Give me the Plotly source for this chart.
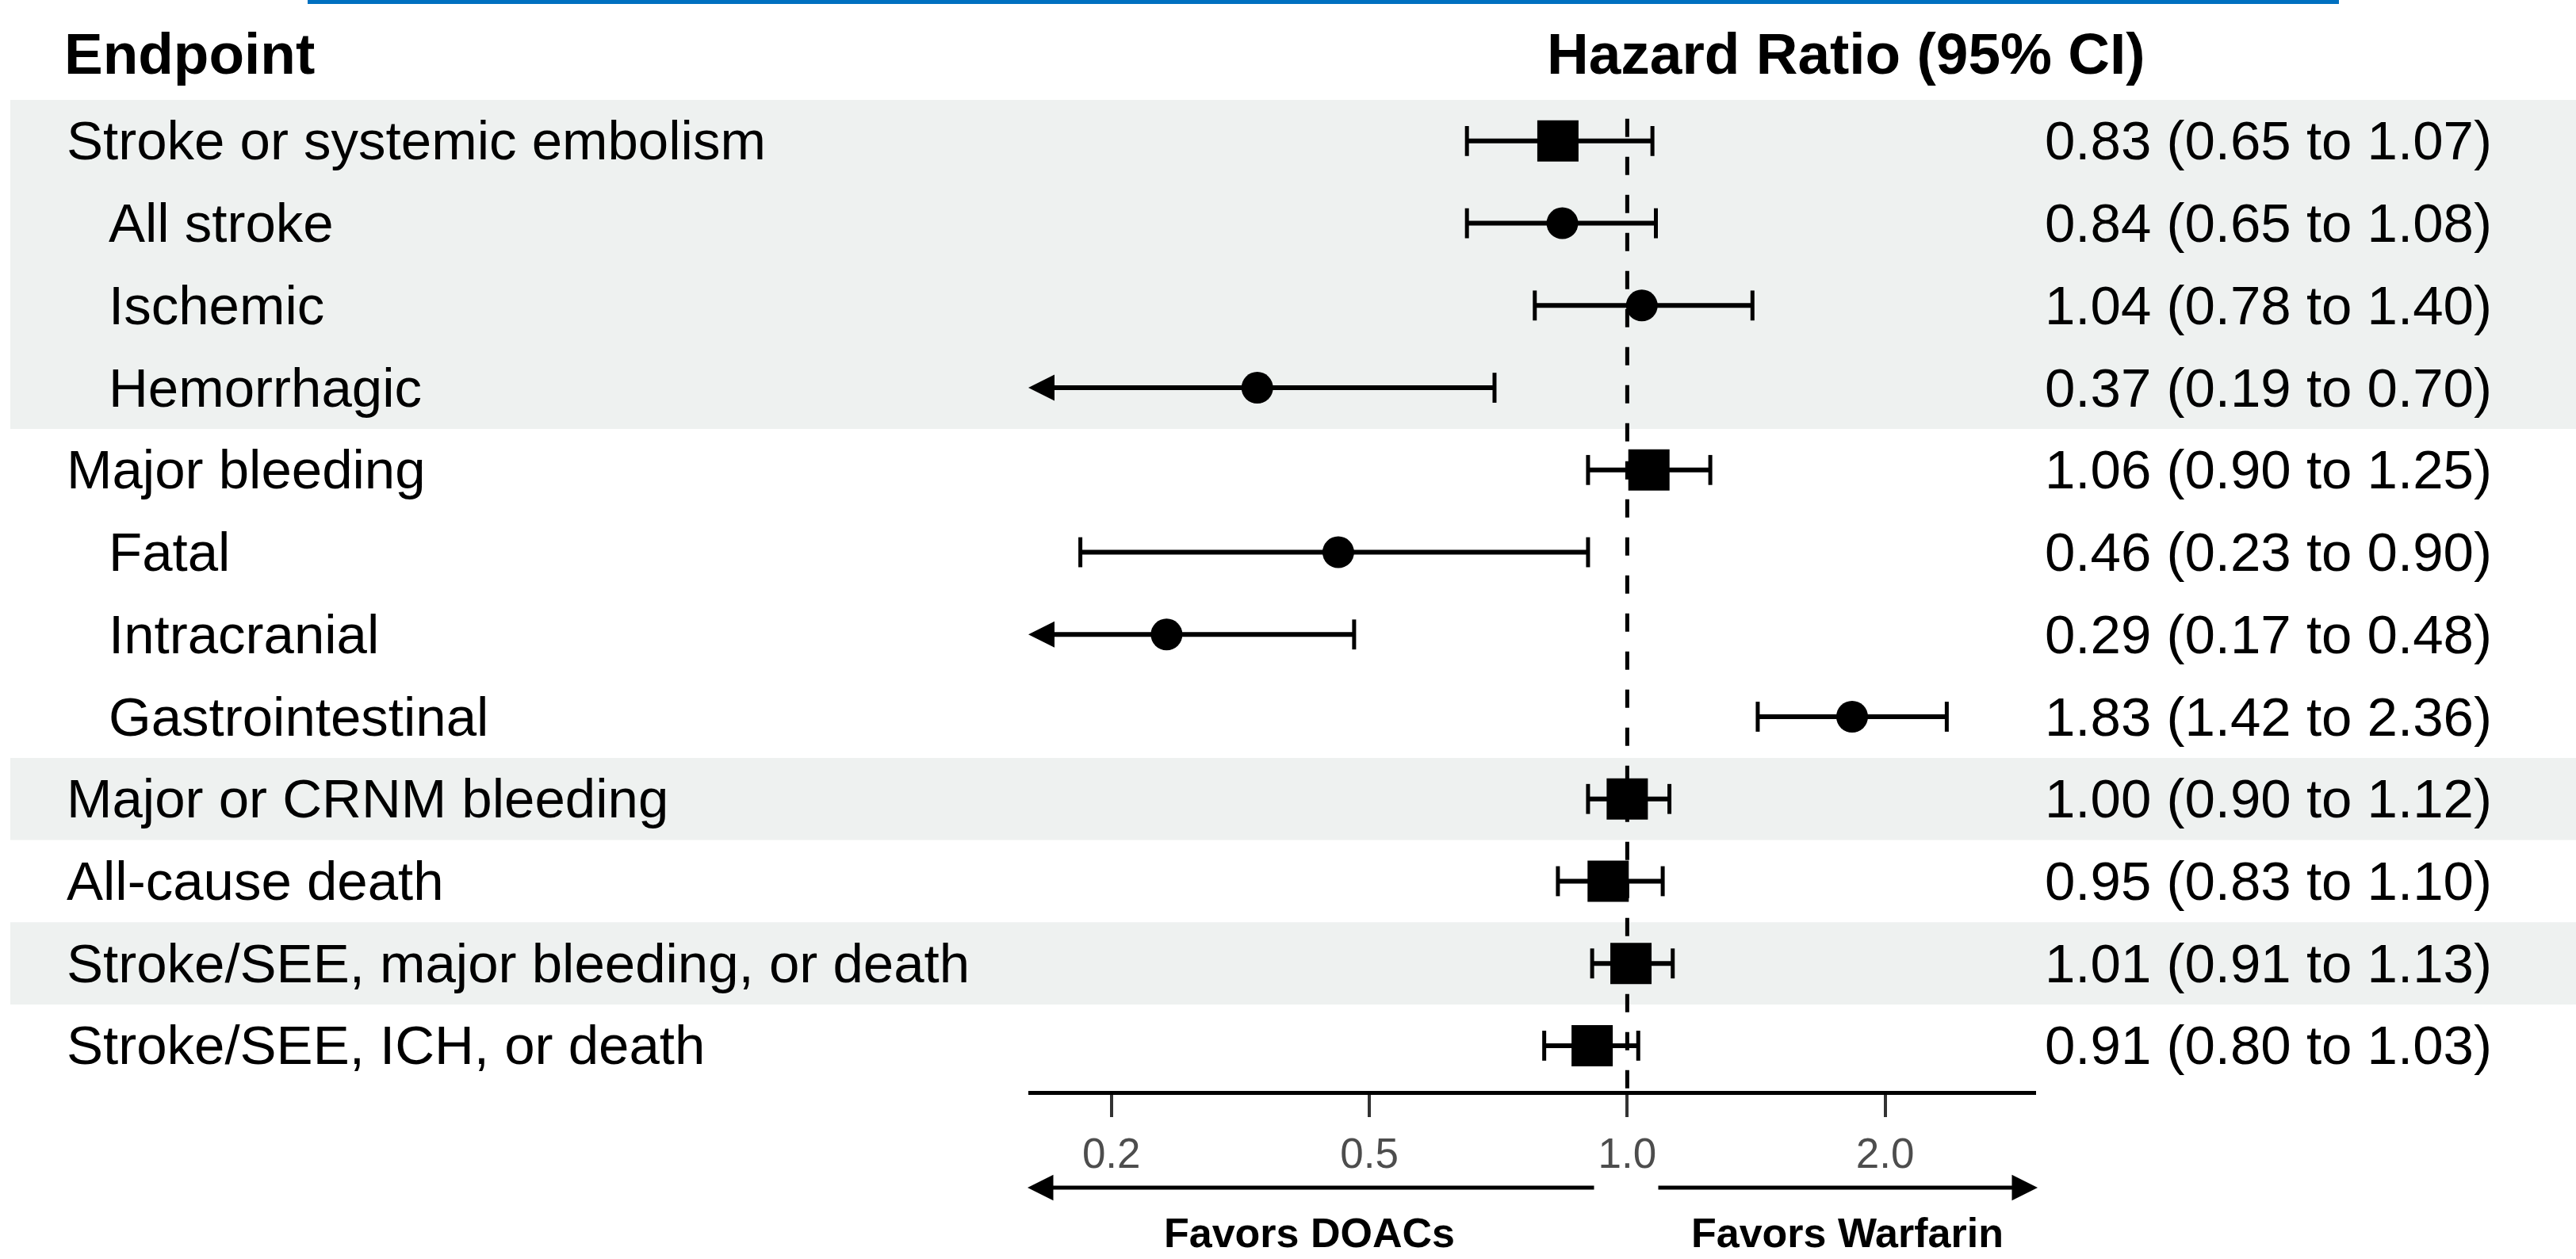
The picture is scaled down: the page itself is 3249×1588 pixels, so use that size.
import math
import plotly.graph_objects as go

# ---------------- data ----------------
endpoints = ["Stroke or systemic embolism", "All stroke", "Ischemic", "Hemorrhagic",
             "Major bleeding", "Fatal", "Intracranial", "Gastrointestinal",
             "Major or CRNM bleeding", "All-cause death",
             "Stroke/SEE, major bleeding, or death", "Stroke/SEE, ICH, or death"]
indent_level = [0, 1, 1, 1, 0, 1, 1, 1, 0, 0, 0, 0]
hazard_ratio = [0.83, 0.84, 1.04, 0.37, 1.06, 0.46, 0.29, 1.83, 1.00, 0.95, 1.01, 0.91]
ci_lower = [0.65, 0.65, 0.78, 0.19, 0.90, 0.23, 0.17, 1.42, 0.90, 0.83, 0.91, 0.80]
ci_upper = [1.07, 1.08, 1.40, 0.70, 1.25, 0.90, 0.48, 2.36, 1.12, 1.10, 1.13, 1.03]
shaded_groups = [(0, 3), (8, 8), (10, 10)]
tick_values = [0.25, 0.5, 1.0, 2.0]
tick_labels = ["0.2", "0.5", "1.0", "2.0"]
x_min, x_max = 0.2, 3.0

# ---------------- layout helpers ----------------
W, H = 3249, 1588
FONT = "Liberation Sans, Arial, Helvetica, sans-serif"


def px(x):
    return x / W


def py(y):
    return 1 - y / H


rows = list(range(len(endpoints)))
fig = go.Figure()
annotations = []

# reference line at HR = 1
fig.add_trace(go.Scatter(x=[1, 1], y=[-0.27, 11.55], mode="lines",
                         line=dict(color="black", width=5, dash="23px,25px"),
                         hoverinfo="skip", showlegend=False))

cap_x, cap_y = [], []
for i in rows:
    lo, hi = ci_lower[i], ci_upper[i]
    if lo < x_min:
        # truncated interval: arrow drawn along the log axis toward the axis minimum
        annotations.append(dict(xref="x", yref="y", axref="x", ayref="y",
                                x=math.log10(x_min), y=i, ax=math.log10(hi), ay=i,
                                text="", showarrow=True, arrowhead=2, arrowsize=1.1,
                                arrowwidth=6, arrowcolor="black"))
        cap_x.append(hi)
        cap_y.append(i)
    else:
        fig.add_trace(go.Scatter(
            x=[lo, hi], y=[i, i], mode="lines",
            line=dict(color="black", width=6),
            hoverinfo="skip", showlegend=False))
        cap_x += [lo, hi]
        cap_y += [i, i]

fig.add_trace(go.Scatter(x=cap_x, y=cap_y, mode="markers",
                         marker=dict(symbol="line-ns", size=27,
                                     line=dict(color="black", width=5)),
                         hoverinfo="skip", showlegend=False))

main = [i for i in rows if indent_level[i] == 0]
sub = [i for i in rows if indent_level[i] == 1]
fig.add_trace(go.Scatter(x=[hazard_ratio[i] for i in main], y=main, mode="markers",
                         marker=dict(symbol="square", size=52, color="black"),
                         showlegend=False))
fig.add_trace(go.Scatter(x=[hazard_ratio[i] for i in sub], y=sub, mode="markers",
                         marker=dict(symbol="circle", size=40, color="black"),
                         showlegend=False))

# shaded bands
shapes = []
for a, b in shaded_groups:
    shapes.append(dict(type="rect", xref="paper", yref="y", x0=px(13), x1=1,
                       y0=a - 0.5, y1=b + 0.5, fillcolor="#EEF1F0",
                       line=dict(width=0), layer="below"))
# top blue rule
shapes.append(dict(type="rect", xref="paper", yref="paper", x0=px(388), x1=px(2950),
                   y0=py(5), y1=1, fillcolor="#0070C0", line=dict(width=0)))

# left labels
for i in rows:
    annotations.append(dict(xref="paper", yref="y", x=px(82 + 53 * indent_level[i]), y=i,
                            text=endpoints[i], showarrow=False, xanchor="left",
                            yanchor="middle",
                            font=dict(family=FONT, size=69, color="black")))
# right labels
for i in rows:
    txt = f"{hazard_ratio[i]:.2f} ({ci_lower[i]:.2f} to {ci_upper[i]:.2f})"
    annotations.append(dict(xref="paper", yref="y", x=px(2577), y=i, text=txt,
                            showarrow=False, xanchor="left", yanchor="middle",
                            font=dict(family=FONT, size=69, color="black")))
# headers
annotations.append(dict(xref="paper", yref="paper", x=px(79), y=py(67),
                        text="<b>Endpoint</b>", showarrow=False, xanchor="left",
                        yanchor="middle", font=dict(family=FONT, size=73, color="black")))
annotations.append(dict(xref="paper", yref="paper", x=px(1949), y=py(67),
                        text="<b>Hazard Ratio (95% CI)</b>", showarrow=False,
                        xanchor="left", yanchor="middle",
                        font=dict(family=FONT, size=73, color="black")))
# favors arrows
annotations.append(dict(xref="paper", yref="paper", x=px(1296), y=py(1498), ax=716, ay=0,
                        axref="pixel", ayref="pixel", text="", showarrow=True,
                        arrowhead=2, arrowsize=1.3, arrowwidth=5, arrowcolor="black"))
annotations.append(dict(xref="paper", yref="paper", x=px(2570), y=py(1498), ax=-480, ay=0,
                        axref="pixel", ayref="pixel", text="", showarrow=True,
                        arrowhead=2, arrowsize=1.3, arrowwidth=5, arrowcolor="black"))
annotations.append(dict(xref="paper", yref="paper", x=px(1651), y=py(1586),
                        text="<b>Favors DOACs</b>", showarrow=False, xanchor="center",
                        yanchor="bottom", font=dict(family=FONT, size=52, color="black")))
annotations.append(dict(xref="paper", yref="paper", x=px(2330), y=py(1586),
                        text="<b>Favors Warfarin</b>", showarrow=False, xanchor="center",
                        yanchor="bottom", font=dict(family=FONT, size=52, color="black")))

fig.update_layout(
    width=W, height=H, autosize=False,
    margin=dict(l=0, r=0, t=0, b=0),
    paper_bgcolor="white", plot_bgcolor="rgba(0,0,0,0)",
    shapes=shapes, annotations=annotations,
    xaxis=dict(type="log", range=[math.log10(x_min), math.log10(x_max)],
               domain=[px(1297), px(2568)],
               showline=True, linecolor="black", linewidth=5,
               ticks="outside", ticklen=28, tickwidth=4, tickcolor="#333333",
               tickvals=tick_values, ticktext=tick_labels,
               tickfont=dict(family=FONT, size=53, color="#4D4D4D"),
               showgrid=False, zeroline=False, fixedrange=True),
    yaxis=dict(range=[11.55, -0.5], domain=[py(1376), py(126)], visible=False,
               fixedrange=True),
)

fig.write_html("out.html")
